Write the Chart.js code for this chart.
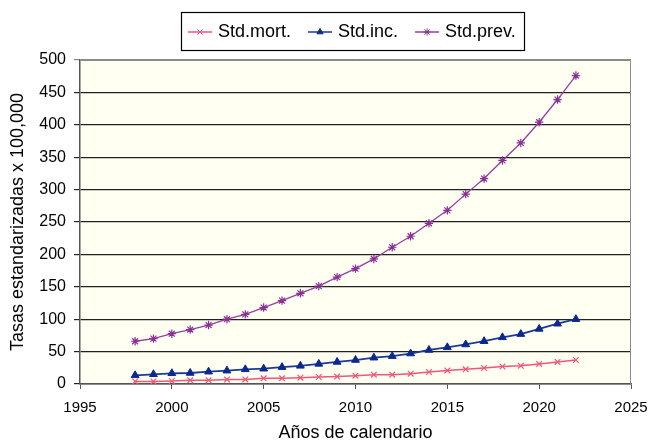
<!DOCTYPE html>
<html>
<head>
<meta charset="utf-8">
<script src="https://cdn.jsdelivr.net/npm/chart.js@4.4.1/dist/chart.umd.min.js"></script>
<style>
  html, body { margin: 0; padding: 0; background: #fff; }
  #wrap { width: 649px; height: 442px; }
</style>
</head>
<body>
<div id="wrap"><canvas id="rates"></canvas></div>
<script>
// Standardised rates x 100,000 by calendar year
const years = [1998, 1999, 2000, 2001, 2002, 2003, 2004, 2005, 2006, 2007, 2008, 2009, 2010,
               2011, 2012, 2013, 2014, 2015, 2016, 2017, 2018, 2019, 2020, 2021, 2022];
const stdMort = [4, 4, 4.6, 5.6, 5.6, 7, 7, 8.7, 8.7, 9.8, 10.8, 11.5, 12.9,
                 14.4, 14.4, 16, 18.5, 21, 22.6, 24.7, 27, 28, 31, 34, 37];
const stdInc = [13.4, 15, 16.5, 17, 19, 20.6, 22.6, 23.6, 26, 28, 31, 34, 37,
                40.6, 43, 47, 52.5, 56.6, 61, 66, 72, 77, 85, 93, 100];
const stdPrev = [66, 70, 77.6, 84, 91, 100, 107.5, 118, 128.6, 140, 151, 165, 178,
                 193, 211, 228, 248, 268, 293, 317, 345, 372, 404, 439, 476];
const seriesLabels = ['Std.mort.', 'Std.inc.', 'Std.prev.'];
const xTitle = 'Años de calendario';
const yTitle = 'Tasas estandarizadas x 100,000';

const FONT = 'Liberation Sans, Arial, Helvetica, sans-serif';

const toPoints = vals => vals.map((v, i) => ({ x: years[i], y: v }));

// cream plot background + grey frame
const plotFrame = {
    id: 'plotFrame',
    beforeDraw(chart) {
        const { ctx, chartArea: a } = chart;
        ctx.save();
        ctx.fillStyle = '#fffff2';
        ctx.fillRect(a.left, a.top, a.right - a.left, a.bottom - a.top);
        ctx.restore();
    },
    afterDatasetsDraw(chart) {
        const { ctx, chartArea: a } = chart;
        ctx.save();
        ctx.strokeStyle = '#8a8a8a';
        ctx.lineWidth = 1;
        ctx.beginPath();
        ctx.moveTo(a.left + 0.5, a.top + 0.5);
        ctx.lineTo(a.right - 0.5, a.top + 0.5);
        ctx.lineTo(a.right - 0.5, a.bottom);
        ctx.stroke();
        ctx.restore();
    }
};

// boxed legend with line + marker samples
const boxLegend = {
    id: 'boxLegend',
    afterDraw(chart) {
        const { ctx } = chart;
        const box = { x: 181, y: 12, w: 343, h: 38 };
        ctx.save();
        ctx.fillStyle = '#fff';
        ctx.fillRect(box.x, box.y, box.w, box.h);
        ctx.strokeStyle = '#000';
        ctx.lineWidth = 1.2;
        ctx.strokeRect(box.x + 0.5, box.y + 0.5, box.w, box.h);

        ctx.font = '18px ' + FONT;
        ctx.textBaseline = 'middle';
        let x = 188;
        const cy = box.y + box.h / 2 + 1;
        chart.data.datasets.forEach(ds => {
            ctx.strokeStyle = ds.borderColor;
            ctx.lineWidth = 1.5;
            ctx.beginPath();
            ctx.moveTo(x, cy);
            ctx.lineTo(x + 24, cy);
            ctx.stroke();
            ctx.strokeStyle = ds.pointBorderColor;
            ctx.fillStyle = ds.pointBackgroundColor;
            ctx.lineWidth = 1;
            Chart.helpers.drawPoint(ctx, { pointStyle: ds.pointStyle, radius: 3.6, borderWidth: 1, rotation: 0 }, x + 12, cy);
            ctx.fillStyle = '#000';
            ctx.fillText(ds.label, x + 30, cy);
            x += 30 + ctx.measureText(ds.label).width + 17;
        });
        ctx.restore();
    }
};

new Chart(document.getElementById('rates'), {
    type: 'line',
    data: {
        datasets: [
            {
                label: seriesLabels[0],
                data: toPoints(stdMort),
                borderColor: '#f2557c',
                backgroundColor: '#f2557c',
                borderWidth: 1.5,
                pointStyle: 'crossRot',
                pointRadius: 4,
                pointBorderColor: '#f2557c',
                pointBackgroundColor: '#f2557c',
                pointBorderWidth: 1.2,
            },
            {
                label: seriesLabels[1],
                data: toPoints(stdInc),
                borderColor: '#1a3a96',
                backgroundColor: '#0a2890',
                borderWidth: 1.8,
                pointStyle: 'triangle',
                pointRadius: 4.5,
                pointBorderColor: '#0a2890',
                pointBackgroundColor: '#0a2890',
                pointBorderWidth: 1,
            },
            {
                label: seriesLabels[2],
                data: toPoints(stdPrev),
                borderColor: '#9a3da0',
                backgroundColor: '#9a3da0',
                borderWidth: 1.3,
                pointStyle: 'star',
                pointRadius: 4.2,
                pointBorderColor: '#8a2f95',
                pointBackgroundColor: '#8a2f95',
                pointBorderWidth: 1.2,
            },
        ],
    },
    options: {
        responsive: true,
        maintainAspectRatio: false,
        animation: false,
        layout: { padding: { top: 60, left: 0, right: 18, bottom: 0 } },
        plugins: {
            legend: { display: false },
            tooltip: { enabled: false },
        },
        scales: {
            x: {
                type: 'linear',
                min: 1995,
                max: 2025,
                afterFit: s => { s.height = 58; s.paddingLeft = 0; s.paddingRight = 0; },
                border: { display: true, color: '#555', width: 1.5 },
                grid: { drawOnChartArea: false, drawTicks: true, tickLength: 5, color: '#555' },
                ticks: {
                    stepSize: 5,
                    padding: 10,
                    color: '#000',
                    font: { family: FONT, size: 15 },
                    callback: v => String(v),
                },
                title: {
                    display: true,
                    text: xTitle,
                    color: '#000',
                    font: { family: FONT, size: 18, lineHeight: 1 },
                    padding: { top: 4, bottom: 0 },
                },
            },
            y: {
                min: 0,
                max: 500,
                afterFit: s => { s.width = 80; },
                border: { display: true, color: '#555', width: 1.5 },
                grid: {
                    tickLength: 6,
                    lineWidth: 1.2,
                    color: c => (c.tick && c.tick.value === 500 ? '#8a8a8a' : '#222'),
                },
                ticks: {
                    stepSize: 50,
                    padding: 8,
                    color: '#000',
                    font: { family: FONT, size: 16 },
                },
                title: {
                    display: true,
                    text: yTitle,
                    color: '#000',
                    font: { family: FONT, size: 18, lineHeight: 1 },
                    padding: { top: 9, bottom: 0 },
                },
            },
        },
    },
    plugins: [plotFrame, boxLegend],
});
</script>
</body>
</html>
